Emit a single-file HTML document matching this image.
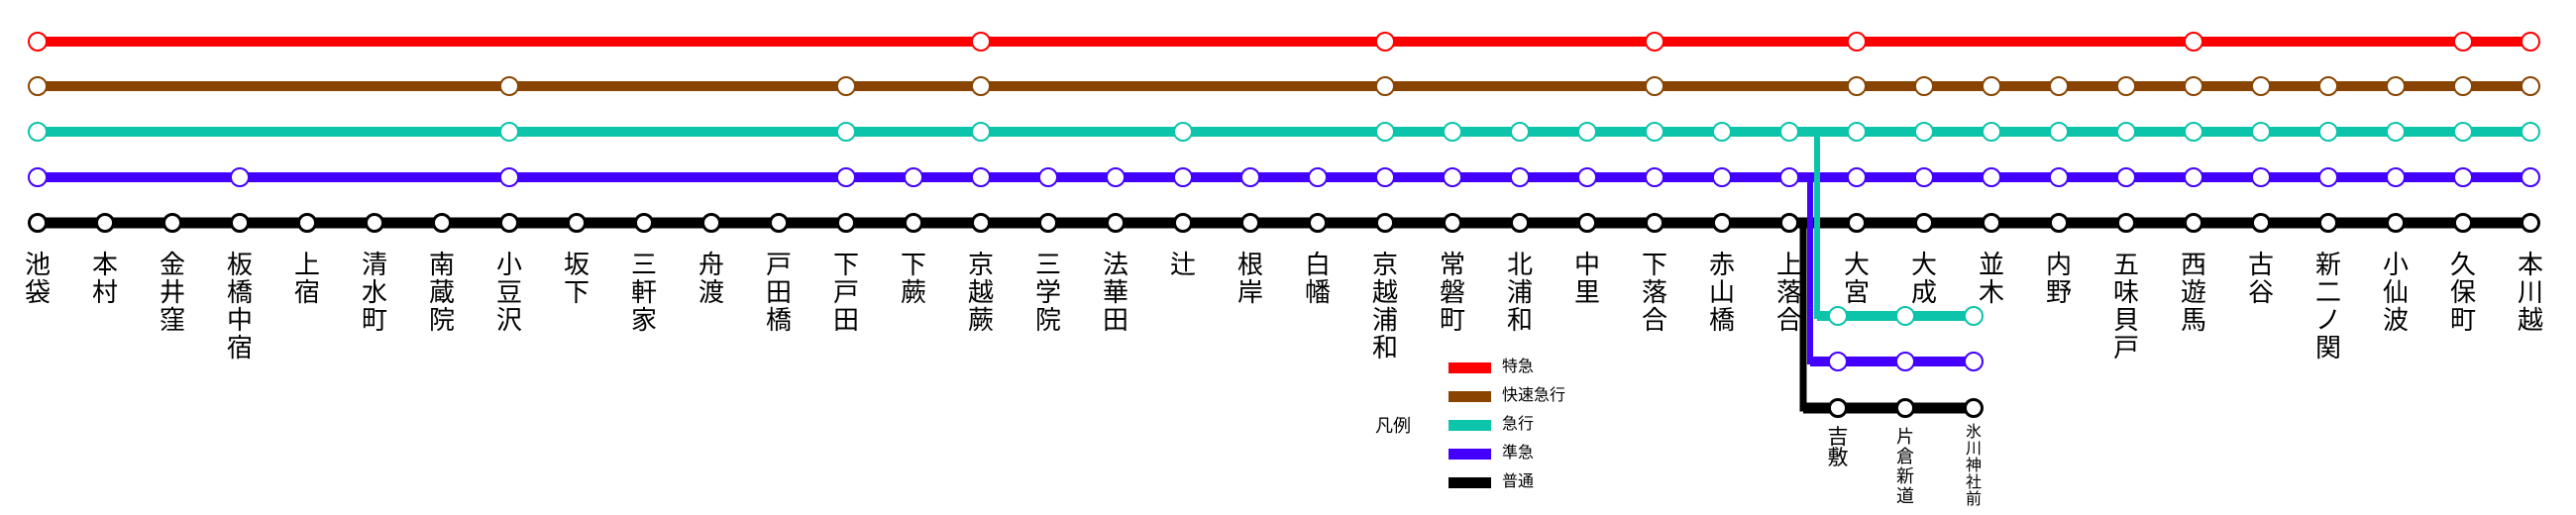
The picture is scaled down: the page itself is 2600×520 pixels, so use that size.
<!DOCTYPE html>
<html><head><meta charset="utf-8"><style>
html,body{margin:0;padding:0;background:#fff;}
body{width:2600px;height:520px;position:relative;overflow:hidden;font-family:"Liberation Sans","Noto Sans CJK JP",sans-serif;}
svg{position:absolute;left:0;top:0;}
.s{position:absolute;top:253px;width:40px;text-align:center;font-size:26px;line-height:28px;color:#000;}
.b{position:absolute;width:30px;text-align:center;color:#000;}
.lg{position:absolute;font-size:16px;line-height:20px;color:#000;}
.r circle{fill:#fff;stroke:#ff0000;stroke-width:2;}
.br circle{fill:#fff;stroke:#884400;stroke-width:2;}
.t circle{fill:#fff;stroke:#0cc4aa;stroke-width:2;}
.p circle{fill:#fff;stroke:#4400ff;stroke-width:2;}
.k circle{fill:#fff;stroke:#000;stroke-width:3;}
</style></head><body>
<svg width="2600" height="520" viewBox="0 0 2600 520">
<!-- lines -->
<line x1="38" y1="42" x2="2554" y2="42" stroke="#ff0000" stroke-width="10"/>
<line x1="38" y1="87" x2="2554" y2="87" stroke="#884400" stroke-width="10"/>
<line x1="38" y1="133" x2="2554" y2="133" stroke="#0cc4aa" stroke-width="10"/>
<line x1="38" y1="179" x2="2554" y2="179" stroke="#4400ff" stroke-width="10"/>
<line x1="38" y1="225" x2="2554" y2="225" stroke="#000" stroke-width="11"/>
<!-- branch -->
<polyline points="1834,133 1834,319 1992,319" fill="none" stroke="#0cc4aa" stroke-width="6"/>
<line x1="1834" y1="319" x2="1992" y2="319" stroke="#0cc4aa" stroke-width="10"/>
<polyline points="1827,179 1827,365 1992,365" fill="none" stroke="#4400ff" stroke-width="6"/>
<line x1="1827" y1="365" x2="1992" y2="365" stroke="#4400ff" stroke-width="10"/>
<polyline points="1820,225 1820,412 1992,412" fill="none" stroke="#000" stroke-width="7"/>
<line x1="1820" y1="412" x2="1992" y2="412" stroke="#000" stroke-width="11"/>
<g class="r">
<circle cx="38" cy="42" r="9"/><circle cx="990" cy="42" r="9"/><circle cx="1398" cy="42" r="9"/><circle cx="1670" cy="42" r="9"/><circle cx="1874" cy="42" r="9"/><circle cx="2214" cy="42" r="9"/><circle cx="2486" cy="42" r="9"/><circle cx="2554" cy="42" r="9"/>
</g>
<g class="br">
<circle cx="38" cy="87" r="9"/><circle cx="514" cy="87" r="9"/><circle cx="854" cy="87" r="9"/><circle cx="990" cy="87" r="9"/><circle cx="1398" cy="87" r="9"/><circle cx="1670" cy="87" r="9"/>
<circle cx="1874" cy="87" r="9"/><circle cx="1942" cy="87" r="9"/><circle cx="2010" cy="87" r="9"/><circle cx="2078" cy="87" r="9"/><circle cx="2146" cy="87" r="9"/><circle cx="2214" cy="87" r="9"/><circle cx="2282" cy="87" r="9"/><circle cx="2350" cy="87" r="9"/><circle cx="2418" cy="87" r="9"/><circle cx="2486" cy="87" r="9"/><circle cx="2554" cy="87" r="9"/>
</g>
<g class="t">
<circle cx="38" cy="133" r="9"/><circle cx="514" cy="133" r="9"/><circle cx="854" cy="133" r="9"/><circle cx="990" cy="133" r="9"/><circle cx="1194" cy="133" r="9"/>
<circle cx="1398" cy="133" r="9"/><circle cx="1466" cy="133" r="9"/><circle cx="1534" cy="133" r="9"/><circle cx="1602" cy="133" r="9"/><circle cx="1670" cy="133" r="9"/><circle cx="1738" cy="133" r="9"/><circle cx="1806" cy="133" r="9"/>
<circle cx="1874" cy="133" r="9"/><circle cx="1942" cy="133" r="9"/><circle cx="2010" cy="133" r="9"/><circle cx="2078" cy="133" r="9"/><circle cx="2146" cy="133" r="9"/><circle cx="2214" cy="133" r="9"/><circle cx="2282" cy="133" r="9"/><circle cx="2350" cy="133" r="9"/><circle cx="2418" cy="133" r="9"/><circle cx="2486" cy="133" r="9"/><circle cx="2554" cy="133" r="9"/>
<circle cx="1855" cy="319" r="9"/><circle cx="1923" cy="319" r="9"/><circle cx="1992" cy="319" r="9"/>
</g>
<g class="p">
<circle cx="38" cy="179" r="9"/><circle cx="242" cy="179" r="9"/><circle cx="514" cy="179" r="9"/>
<circle cx="854" cy="179" r="9"/><circle cx="922" cy="179" r="9"/><circle cx="990" cy="179" r="9"/><circle cx="1058" cy="179" r="9"/><circle cx="1126" cy="179" r="9"/><circle cx="1194" cy="179" r="9"/><circle cx="1262" cy="179" r="9"/><circle cx="1330" cy="179" r="9"/>
<circle cx="1398" cy="179" r="9"/><circle cx="1466" cy="179" r="9"/><circle cx="1534" cy="179" r="9"/><circle cx="1602" cy="179" r="9"/><circle cx="1670" cy="179" r="9"/><circle cx="1738" cy="179" r="9"/><circle cx="1806" cy="179" r="9"/>
<circle cx="1874" cy="179" r="9"/><circle cx="1942" cy="179" r="9"/><circle cx="2010" cy="179" r="9"/><circle cx="2078" cy="179" r="9"/><circle cx="2146" cy="179" r="9"/><circle cx="2214" cy="179" r="9"/><circle cx="2282" cy="179" r="9"/><circle cx="2350" cy="179" r="9"/><circle cx="2418" cy="179" r="9"/><circle cx="2486" cy="179" r="9"/><circle cx="2554" cy="179" r="9"/>
<circle cx="1855" cy="365" r="9"/><circle cx="1923" cy="365" r="9"/><circle cx="1992" cy="365" r="9"/>
</g>
<g class="k">
<circle cx="38" cy="225" r="8.5"/><circle cx="106" cy="225" r="8.5"/><circle cx="174" cy="225" r="8.5"/><circle cx="242" cy="225" r="8.5"/><circle cx="310" cy="225" r="8.5"/><circle cx="378" cy="225" r="8.5"/><circle cx="446" cy="225" r="8.5"/><circle cx="514" cy="225" r="8.5"/><circle cx="582" cy="225" r="8.5"/><circle cx="650" cy="225" r="8.5"/>
<circle cx="718" cy="225" r="8.5"/><circle cx="786" cy="225" r="8.5"/><circle cx="854" cy="225" r="8.5"/><circle cx="922" cy="225" r="8.5"/><circle cx="990" cy="225" r="8.5"/><circle cx="1058" cy="225" r="8.5"/><circle cx="1126" cy="225" r="8.5"/><circle cx="1194" cy="225" r="8.5"/><circle cx="1262" cy="225" r="8.5"/><circle cx="1330" cy="225" r="8.5"/>
<circle cx="1398" cy="225" r="8.5"/><circle cx="1466" cy="225" r="8.5"/><circle cx="1534" cy="225" r="8.5"/><circle cx="1602" cy="225" r="8.5"/><circle cx="1670" cy="225" r="8.5"/><circle cx="1738" cy="225" r="8.5"/><circle cx="1806" cy="225" r="8.5"/><circle cx="1874" cy="225" r="8.5"/><circle cx="1942" cy="225" r="8.5"/><circle cx="2010" cy="225" r="8.5"/>
<circle cx="2078" cy="225" r="8.5"/><circle cx="2146" cy="225" r="8.5"/><circle cx="2214" cy="225" r="8.5"/><circle cx="2282" cy="225" r="8.5"/><circle cx="2350" cy="225" r="8.5"/><circle cx="2418" cy="225" r="8.5"/><circle cx="2486" cy="225" r="8.5"/><circle cx="2554" cy="225" r="8.5"/>
<circle cx="1855" cy="412" r="8.5"/><circle cx="1923" cy="412" r="8.5"/><circle cx="1992" cy="412" r="8.5"/>
</g>
<!-- legend bars -->
<rect x="1462" y="366" width="43" height="11" fill="#ff0000"/>
<rect x="1462" y="395" width="43" height="11" fill="#884400"/>
<rect x="1462" y="424" width="43" height="11" fill="#0cc4aa"/>
<rect x="1462" y="453" width="43" height="11" fill="#4400ff"/>
<rect x="1462" y="482" width="43" height="11" fill="#000"/>
</svg>

<div class="s" style="left:18px">池<br>袋</div>
<div class="s" style="left:86px">本<br>村</div>
<div class="s" style="left:154px">金<br>井<br>窪</div>
<div class="s" style="left:222px">板<br>橋<br>中<br>宿</div>
<div class="s" style="left:290px">上<br>宿</div>
<div class="s" style="left:358px">清<br>水<br>町</div>
<div class="s" style="left:426px">南<br>蔵<br>院</div>
<div class="s" style="left:494px">小<br>豆<br>沢</div>
<div class="s" style="left:562px">坂<br>下</div>
<div class="s" style="left:630px">三<br>軒<br>家</div>
<div class="s" style="left:698px">舟<br>渡</div>
<div class="s" style="left:766px">戸<br>田<br>橋</div>
<div class="s" style="left:834px">下<br>戸<br>田</div>
<div class="s" style="left:902px">下<br>蕨</div>
<div class="s" style="left:970px">京<br>越<br>蕨</div>
<div class="s" style="left:1038px">三<br>学<br>院</div>
<div class="s" style="left:1106px">法<br>華<br>田</div>
<div class="s" style="left:1174px">辻</div>
<div class="s" style="left:1242px">根<br>岸</div>
<div class="s" style="left:1310px">白<br>幡</div>
<div class="s" style="left:1378px">京<br>越<br>浦<br>和</div>
<div class="s" style="left:1446px">常<br>磐<br>町</div>
<div class="s" style="left:1514px">北<br>浦<br>和</div>
<div class="s" style="left:1582px">中<br>里</div>
<div class="s" style="left:1650px">下<br>落<br>合</div>
<div class="s" style="left:1718px">赤<br>山<br>橋</div>
<div class="s" style="left:1786px">上<br>落<br>合</div>
<div class="s" style="left:1854px">大<br>宮</div>
<div class="s" style="left:1922px">大<br>成</div>
<div class="s" style="left:1990px">並<br>木</div>
<div class="s" style="left:2058px">内<br>野</div>
<div class="s" style="left:2126px">五<br>味<br>貝<br>戸</div>
<div class="s" style="left:2194px">西<br>遊<br>馬</div>
<div class="s" style="left:2262px">古<br>谷</div>
<div class="s" style="left:2330px">新<br>二<br>ノ<br>関</div>
<div class="s" style="left:2398px">小<br>仙<br>波</div>
<div class="s" style="left:2466px">久<br>保<br>町</div>
<div class="s" style="left:2534px">本<br>川<br>越</div>

<div class="b" style="left:1840px;top:431px;font-size:21px;line-height:21px;">吉<br>敷</div>
<div class="b" style="left:1908px;top:431px;font-size:18px;line-height:20px;">片<br>倉<br>新<br>道</div>
<div class="b" style="left:1977px;top:428px;font-size:16px;line-height:17px;">氷<br>川<br>神<br>社<br>前</div>

<div class="lg" style="left:1388px;top:418px;font-size:18px;line-height:24px;">凡例</div>
<div class="lg" style="left:1516px;top:361px;">特急</div>
<div class="lg" style="left:1516px;top:390px;">快速急行</div>
<div class="lg" style="left:1516px;top:419px;">急行</div>
<div class="lg" style="left:1516px;top:448px;">準急</div>
<div class="lg" style="left:1516px;top:477px;">普通</div>
</body></html>
